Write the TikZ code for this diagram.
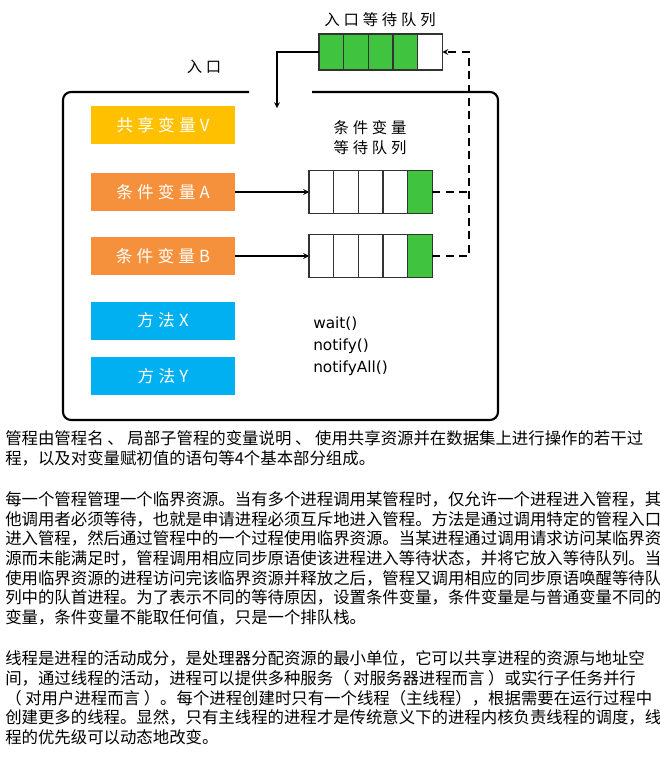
\documentclass[tikz,border=0pt]{standalone}
\usepackage{fontspec}
\setmainfont{DejaVu Sans}
\newfontfamily\cjk{Noto Sans CJK SC}
\newfontfamily\hand[LetterSpace=25]{Noto Sans CJK SC}
\usetikzlibrary{arrows}
\usetikzlibrary{positioning}
\definecolor{sharedyellow}{RGB}{255,192,0}
\definecolor{condorange}{RGB}{245,145,60}
\definecolor{methodblue}{RGB}{0,176,240}
\definecolor{waitgreen}{RGB}{64,196,64}
\tikzset{
	>=stealth,
    varbox/.style={minimum width=108pt, minimum height=28.5pt, inner sep=0pt,
        text=white, font=\hand\fontsize{12.5}{14}\selectfont},
    shared/.style={varbox, fill=sharedyellow},
    cond/.style={varbox, fill=condorange},
    method/.style={varbox, fill=methodblue},
    cell/.style={draw=black!80, line width=0.9pt, minimum width=18.5pt,
        inner sep=0pt, outer sep=0pt},
    entrycell/.style={cell, minimum height=27pt},
    waitcell/.style={cell, minimum height=32pt},
    caption/.style={inner sep=0pt, font=\hand\fontsize{11.5}{13}\selectfont},
    call/.style={anchor=west, inner sep=0pt, font=\fontsize{11.5}{13}\selectfont},
    textline/.style={anchor=west, inner sep=0pt, font=\cjk\fontsize{12.3}{14}\selectfont},
    link/.style={draw=black, line width=.9pt},
    backlink/.style={draw=black, line width=.9pt, dash pattern=on 6pt off 4pt},
}

\begin{document}
\begin{tikzpicture}[x=0.75pt, y=-0.75pt]
		\fill[white] (0,0) rectangle (660,758);
		\useasboundingbox (0,0) rectangle (660,758);

		% entry queue
		\node[caption] (entrytitle) at (380,20) {入口等待队列};
		\foreach \i/\c in {1/waitgreen,2/waitgreen,3/waitgreen,4/waitgreen,5/white}
			\node[entrycell, fill=\c] (eq\i) at ({319+24.7*(\i-0.5)},52) {};
		\node[caption] (entrylabel) at (204,67) {入口};
		\coordinate (entry) at (277,108);
		\draw[link,->] (eq1.west) -| (entry);

		% monitor
		\draw[line width=1.6pt, rounded corners=6pt] (249,92) -- (63,92) -- (63,420) -- (498,420) -- (498,92) -- (312,92);

		\node[shared] (sharedV) at (163,125) {共享变量V};
		\node[cond] (condA) at (163,192) {条件变量A};
		\node[cond] (condB) at (163,256) {条件变量B};
		\node[method] (methodX) at (163,320.5) {方法X};
		\node[method] (methodY) at (163,376) {方法Y};

		\node[caption] (waittitleA) at (370,128) {条件变量};
		\node[caption] (waittitleB) at (370,148) {等待队列};
		\foreach \i/\c in {1/white,2/white,3/white,4/white,5/waitgreen}
		{
			\node[waitcell, fill=\c] (qa\i) at ({309+24.7*(\i-0.5)},192) {};
			\node[waitcell, fill=\c] (qb\i) at ({309+24.7*(\i-0.5)},256) {};
		}
		\draw[link,->] (condA.east) -- (qa1.west);
		\draw[link,->] (condB.east) -- (qb1.west);

		\coordinate (turn) at (469,52);
		\draw[backlink] (qa5.east) -- (qa5.east -| turn);
		\draw[backlink,->] (qb5.east) -| (turn) -- (eq5.east);

		\node[call] (wait) at (313,324) {wait()};
		\node[call] (notify) at (313,346) {notify()};
		\node[call] (notifyall) at (313,368) {notifyAll()};

		% text
		\node[textline] (p1a) at (5,438) {管程由管程名 、 局部子管程的变量说明 、 使用共享资源并在数据集上进行操作的若干过};
		\node[textline] (p1b) at (5,458) {程，以及对变量赋初值的语句等4个基本部分组成。};

		\node[textline] (p2a) at (5,499) {每一个管程管理一个临界资源。当有多个进程调用某管程时，仅允许一个进程进入管程，其};
		\node[textline] (p2b) at (5,519) {他调用者必须等待，也就是申请进程必须互斥地进入管程。方法是通过调用特定的管程入口};
		\node[textline] (p2c) at (5,538) {进入管程，然后通过管程中的一个过程使用临界资源。当某进程通过调用请求访问某临界资};
		\node[textline] (p2d) at (5,558) {源而未能满足时，管程调用相应同步原语使该进程进入等待状态，并将它放入等待队列。当};
		\node[textline] (p2e) at (5,578) {使用临界资源的进程访问完该临界资源并释放之后，管程又调用相应的同步原语唤醒等待队};
		\node[textline] (p2f) at (5,597) {列中的队首进程。为了表示不同的等待原因，设置条件变量，条件变量是与普通变量不同的};
		\node[textline] (p2g) at (5,617) {变量，条件变量不能取任何值，只是一个排队栈。};

		\node[textline] (p3a) at (5,658) {线程是进程的活动成分，是处理器分配资源的最小单位，它可以共享进程的资源与地址空};
		\node[textline] (p3b) at (5,678) {间，通过线程的活动，进程可以提供多种服务（ 对服务器进程而言 ）或实行子任务并行};
		\node[textline] (p3c) at (5,698) {（ 对用户进程而言 ）。每个进程创建时只有一个线程（主线程），根据需要在运行过程中};
		\node[textline] (p3d) at (5,717) {创建更多的线程。显然，只有主线程的进程才是传统意义下的进程内核负责线程的调度，线};
		\node[textline] (p3e) at (5,737) {程的优先级可以动态地改变。};
\end{tikzpicture}
\end{document}
